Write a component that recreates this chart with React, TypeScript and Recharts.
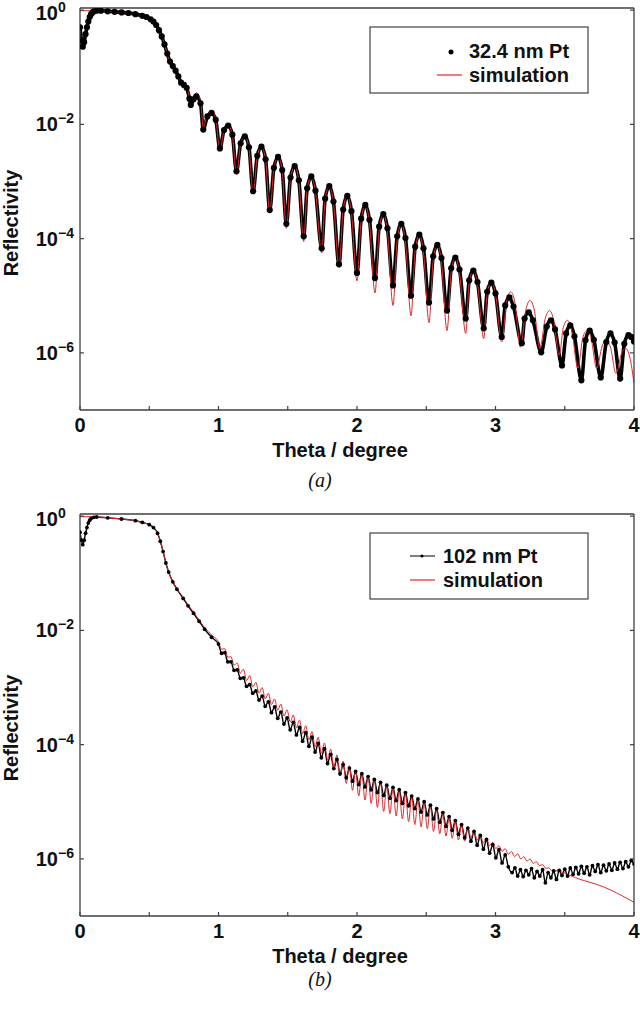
import React from 'react';
import { LineChart, Line, XAxis, YAxis, ReferenceLine } from 'recharts';

// values are [theta (deg), log10(reflectivity)]
const dataA: [number, number][] = [
  [0, -0.3], [0.01, -0.52], [0.02, -0.64], [0.03, -0.56], [0.04, -0.42], [0.05, -0.3], [0.06, -0.2], [0.07, -0.12],
  [0.08, -0.07], [0.09, -0.04], [0.1, -0.02], [0.12, -0.01], [0.15, -0.01], [0.2, -0.02], [0.25, -0.03], [0.3, -0.04],
  [0.35, -0.05], [0.4, -0.07], [0.45, -0.1], [0.48, -0.12], [0.51, -0.16], [0.53, -0.2], [0.55, -0.26], [0.57, -0.35],
  [0.59, -0.46], [0.61, -0.6], [0.63, -0.76], [0.65, -0.9], [0.67, -0.98], [0.69, -1.06], [0.71, -1.16], [0.73, -1.27],
  [0.75, -1.31], [0.77, -1.36], [0.79, -1.55], [0.8, -1.66], [0.82, -1.56], [0.84, -1.51],
  [0.87, -1.63], [0.89, -2.09], [0.92, -1.86], [0.95, -1.8],
  [0.98, -1.92], [1.01, -2.42], [1.04, -2.1], [1.07, -2.02],
  [1.1, -2.18], [1.13, -2.82], [1.16, -2.33], [1.19, -2.21],
  [1.22, -2.4], [1.25, -3.17], [1.28, -2.55], [1.31, -2.39],
  [1.34, -2.61], [1.37, -3.5], [1.4, -2.76], [1.43, -2.57],
  [1.46, -2.8], [1.49, -3.74], [1.52, -2.93], [1.55, -2.73],
  [1.58, -2.98], [1.615, -3.96], [1.64, -3.12], [1.67, -2.91],
  [1.7, -3.16], [1.745, -4.17], [1.77, -3.3], [1.8, -3.08],
  [1.83, -3.35], [1.87, -4.45], [1.9, -3.49], [1.93, -3.25],
  [1.96, -3.52], [2.0, -4.6], [2.03, -3.65], [2.06, -3.41],
  [2.09, -3.67], [2.13, -4.69], [2.16, -3.79], [2.19, -3.57],
  [2.22, -3.82], [2.26, -4.82], [2.29, -3.96], [2.32, -3.74],
  [2.35, -3.99], [2.39, -5.0], [2.42, -4.14], [2.45, -3.93],
  [2.48, -4.17], [2.52, -5.12], [2.55, -4.31], [2.58, -4.11],
  [2.61, -4.34], [2.65, -5.26], [2.68, -4.52], [2.71, -4.33],
  [2.74, -4.54], [2.785, -5.4], [2.81, -4.73], [2.84, -4.56],
  [2.87, -4.76], [2.915, -5.57], [2.94, -4.93], [2.97, -4.77],
  [3.0, -4.96], [3.045, -5.72], [3.07, -5.17], [3.1, -5.03],
  [3.13, -5.19], [3.19, -5.83], [3.21, -5.4], [3.24, -5.29],
  [3.27, -5.43], [3.33, -5.99], [3.37, -5.54], [3.4, -5.43],
  [3.43, -5.59], [3.48, -6.22], [3.51, -5.66], [3.54, -5.52],
  [3.57, -5.71], [3.62, -6.48], [3.65, -5.78], [3.68, -5.61],
  [3.71, -5.77], [3.76, -6.43], [3.8, -5.81], [3.83, -5.66],
  [3.86, -5.82], [3.9, -6.45], [3.93, -5.84], [3.96, -5.69],
  [3.98, -5.72], [4.0, -5.8],
];

const simA: [number, number][] = [
  [0, -0.01], [0.05, -0.01], [0.1, -0.01], [0.2, -0.02], [0.3, -0.04], [0.4, -0.07], [0.45, -0.1], [0.5, -0.15],
  [0.54, -0.23], [0.57, -0.35], [0.6, -0.52], [0.62, -0.68], [0.64, -0.85], [0.66, -0.96], [0.68, -1.04], [0.7, -1.12],
  [0.72, -1.22], [0.74, -1.28], [0.76, -1.3], [0.78, -1.42], [0.8, -1.6], [0.82, -1.5], [0.84, -1.45],
  [0.87, -1.57], [0.89, -2.05], [0.92, -1.82], [0.95, -1.76],
  [0.98, -1.9], [1.01, -2.45], [1.04, -2.11], [1.07, -2.02],
  [1.1, -2.19], [1.13, -2.88], [1.16, -2.34], [1.19, -2.21],
  [1.22, -2.41], [1.25, -3.22], [1.28, -2.56], [1.31, -2.39],
  [1.34, -2.62], [1.37, -3.55], [1.4, -2.77], [1.43, -2.57],
  [1.46, -2.82], [1.49, -3.82], [1.52, -2.95], [1.55, -2.73],
  [1.58, -2.99], [1.615, -4.05], [1.64, -3.14], [1.67, -2.91],
  [1.7, -3.18], [1.745, -4.25], [1.77, -3.31], [1.8, -3.08],
  [1.83, -3.36], [1.87, -4.5], [1.9, -3.5], [1.93, -3.25],
  [1.96, -3.55], [2.0, -4.74], [2.03, -3.68], [2.06, -3.41],
  [2.09, -3.72], [2.13, -4.95], [2.16, -3.85], [2.19, -3.57],
  [2.22, -3.89], [2.26, -5.17], [2.29, -4.03], [2.32, -3.74],
  [2.35, -4.06], [2.39, -5.35], [2.42, -4.21], [2.45, -3.93],
  [2.48, -4.24], [2.52, -5.47], [2.55, -4.38], [2.58, -4.11],
  [2.61, -4.41], [2.65, -5.61], [2.68, -4.59], [2.71, -4.33],
  [2.74, -4.6], [2.785, -5.66], [2.81, -4.78], [2.84, -4.56],
  [2.87, -4.8], [2.915, -5.75], [2.94, -4.96], [2.97, -4.76],
  [3.0, -4.97], [3.045, -5.81], [3.08, -5.11], [3.11, -4.93],
  [3.14, -5.12], [3.18, -5.9], [3.22, -5.24], [3.25, -5.08],
  [3.28, -5.25], [3.32, -5.92], [3.36, -5.39], [3.39, -5.26],
  [3.42, -5.42], [3.46, -6.04], [3.49, -5.55], [3.52, -5.43],
  [3.55, -5.6], [3.595, -6.27], [3.63, -5.74], [3.66, -5.61],
  [3.69, -5.74], [3.73, -6.27], [3.77, -5.88], [3.8, -5.78],
  [3.83, -5.9], [3.87, -6.36], [3.91, -6.01], [3.94, -5.92],
  [3.97, -6.08], [4.0, -6.53],
];

const dataB: [number, number][] = [
  [0, -0.28], [0.01, -0.42], [0.02, -0.5], [0.03, -0.42], [0.04, -0.3], [0.05, -0.2], [0.06, -0.12], [0.07, -0.07],
  [0.08, -0.04], [0.1, -0.02], [0.12, -0.015], [0.2, -0.03], [0.3, -0.05], [0.4, -0.08], [0.45, -0.11], [0.5, -0.15],
  [0.53, -0.2], [0.56, -0.3], [0.58, -0.44], [0.6, -0.62], [0.62, -0.82], [0.64, -0.98], [0.67, -1.15], [0.7, -1.28],
  [0.745, -1.44], [0.78, -1.57], [0.82, -1.7], [0.86, -1.84], [0.9, -1.98], [0.95, -2.12],
  [1.0, -2.24], [1.0225, -2.4], [1.045, -2.39], [1.0675, -2.55], [1.09, -2.55], [1.1125, -2.7], [1.135, -2.69],
  [1.1575, -2.84], [1.18, -2.83], [1.2025, -2.98], [1.225, -2.95], [1.2475, -3.1], [1.27, -3.06], [1.2925, -3.22],
  [1.315, -3.15], [1.3375, -3.33], [1.36, -3.25], [1.3825, -3.44], [1.405, -3.34], [1.4275, -3.54], [1.45, -3.43],
  [1.4725, -3.64], [1.495, -3.53], [1.5175, -3.74], [1.54, -3.61], [1.5625, -3.83], [1.585, -3.7], [1.6075, -3.94],
  [1.63, -3.79], [1.6525, -4.03], [1.675, -3.87], [1.6975, -4.13], [1.72, -3.98], [1.7425, -4.23], [1.765, -4.07],
  [1.7875, -4.33], [1.81, -4.17], [1.8325, -4.42], [1.855, -4.26], [1.8775, -4.51], [1.9, -4.35], [1.9225, -4.58],
  [1.945, -4.41], [1.9675, -4.64], [1.99, -4.47], [2.0125, -4.7], [2.035, -4.51], [2.0575, -4.74], [2.08, -4.56],
  [2.1025, -4.79], [2.125, -4.61], [2.1475, -4.84], [2.17, -4.66], [2.1925, -4.89], [2.215, -4.71], [2.2375, -4.94],
  [2.26, -4.75], [2.2825, -4.98], [2.305, -4.79], [2.3275, -5.03], [2.35, -4.84], [2.3725, -5.07], [2.395, -4.9],
  [2.4175, -5.12], [2.44, -4.95], [2.4625, -5.18], [2.485, -5.0], [2.5075, -5.23], [2.53, -5.06], [2.5525, -5.3],
  [2.575, -5.12], [2.5975, -5.36], [2.62, -5.19], [2.6425, -5.43], [2.665, -5.26], [2.6875, -5.5], [2.71, -5.33],
  [2.7325, -5.57], [2.755, -5.4], [2.7775, -5.63], [2.8, -5.46], [2.8225, -5.69], [2.845, -5.52], [2.8675, -5.76],
  [2.89, -5.59], [2.9125, -5.83], [2.935, -5.66], [2.9575, -5.9], [2.98, -5.75], [3.0025, -5.98], [3.025, -5.84],
  [3.0475, -6.07], [3.07, -5.93], [3.0925, -6.14],
  [3.12, -6.24], [3.14, -6.16], [3.16, -6.3], [3.18, -6.19], [3.2, -6.31], [3.22, -6.2], [3.24, -6.28], [3.26, -6.17],
  [3.28, -6.33], [3.3, -6.22], [3.32, -6.3], [3.34, -6.19], [3.36, -6.42], [3.38, -6.24], [3.4, -6.33], [3.42, -6.21],
  [3.44, -6.36], [3.46, -6.2], [3.48, -6.29], [3.5, -6.18], [3.52, -6.3], [3.54, -6.16], [3.56, -6.27], [3.58, -6.15],
  [3.6, -6.26], [3.62, -6.13], [3.64, -6.25], [3.66, -6.14], [3.68, -6.28], [3.7, -6.12], [3.72, -6.22], [3.74, -6.1],
  [3.76, -6.24], [3.78, -6.11], [3.8, -6.21], [3.82, -6.09], [3.84, -6.2], [3.86, -6.07], [3.88, -6.18], [3.9, -6.06],
  [3.92, -6.17], [3.94, -6.05], [3.96, -6.14], [3.98, -6.03], [4.0, -6.09],
];

const simB: [number, number][] = [
  [0, -0.01], [0.1, -0.01], [0.2, -0.03], [0.3, -0.05], [0.4, -0.08], [0.45, -0.11], [0.5, -0.15], [0.53, -0.2],
  [0.56, -0.3], [0.58, -0.44], [0.6, -0.62], [0.62, -0.82], [0.64, -0.98], [0.67, -1.14], [0.7, -1.27], [0.745, -1.42],
  [0.78, -1.55], [0.82, -1.68], [0.86, -1.82], [0.9, -1.95], [0.95, -2.08],
  [1.0, -2.2], [1.0225, -2.33], [1.045, -2.32], [1.0675, -2.47], [1.09, -2.46], [1.1125, -2.61], [1.135, -2.57],
  [1.1575, -2.75], [1.18, -2.68], [1.2025, -2.88], [1.225, -2.79], [1.2475, -2.99], [1.27, -2.91], [1.2925, -3.1],
  [1.315, -3.0], [1.3375, -3.2], [1.36, -3.1], [1.3825, -3.3], [1.405, -3.2], [1.4275, -3.4], [1.45, -3.29],
  [1.4725, -3.5], [1.495, -3.39], [1.5175, -3.6], [1.54, -3.48], [1.5625, -3.7], [1.585, -3.57], [1.6075, -3.81],
  [1.63, -3.67], [1.6525, -3.92], [1.675, -3.77], [1.6975, -4.04], [1.72, -3.87], [1.7425, -4.15], [1.765, -3.97],
  [1.7875, -4.26], [1.81, -4.08], [1.8325, -4.4], [1.855, -4.18], [1.8775, -4.55], [1.9, -4.29], [1.9225, -4.68],
  [1.945, -4.37], [1.9675, -4.8], [1.99, -4.45], [2.0125, -4.9], [2.035, -4.5], [2.0575, -4.97], [2.08, -4.55],
  [2.1025, -5.03], [2.125, -4.6], [2.1475, -5.1], [2.17, -4.66], [2.1925, -5.17], [2.215, -4.71], [2.2375, -5.21],
  [2.26, -4.75], [2.2825, -5.25], [2.305, -4.81], [2.3275, -5.3], [2.35, -4.86], [2.3725, -5.35], [2.395, -4.92],
  [2.4175, -5.4], [2.44, -4.97], [2.4625, -5.44], [2.485, -5.02], [2.5075, -5.47], [2.53, -5.08], [2.5525, -5.52],
  [2.575, -5.14], [2.5975, -5.56], [2.62, -5.21], [2.6425, -5.6], [2.665, -5.28], [2.6875, -5.64], [2.71, -5.34],
  [2.7325, -5.67], [2.755, -5.41], [2.7775, -5.69], [2.8, -5.46], [2.8225, -5.63], [2.845, -5.52], [2.8675, -5.67],
  [2.89, -5.59], [2.9125, -5.72], [2.935, -5.64], [2.9575, -5.77], [2.98, -5.71], [3.0025, -5.82], [3.025, -5.77],
  [3.0475, -5.87], [3.07, -5.82], [3.0925, -5.92], [3.115, -5.87], [3.1375, -5.96], [3.16, -5.91], [3.1825, -6.0],
  [3.205, -5.96], [3.2275, -6.04], [3.25, -6.0], [3.2725, -6.08], [3.295, -6.05], [3.3175, -6.12], [3.34, -6.1],
  [3.3625, -6.165], [3.385, -6.155], [3.4075, -6.21], [3.43, -6.21], [3.6, -6.35], [3.78, -6.49], [4.0, -6.76],
];

const X_TICKS = [0, 0.5, 1, 1.5, 2, 2.5, 3, 3.5, 4];
const Y_TICKS = [1e-6, 1e-4, 1e-2, 1];
const Y_EXP = ['\u22126', '\u22124', '\u22122', '0'];
const Y_DOMAIN: [number, number] = [1e-7, 1.09];

const FRAME = '#404040';
const RED = '#e3262d';
const SANS = '"Liberation Sans", Arial, sans-serif';
const SERIF = '"Liberation Serif", "Times New Roman", serif';

const toPts = (arr: [number, number][]) => arr.map(([t, e]) => ({ t, r: Math.pow(10, e) }));

function XTick({ x, y, payload }: any) {
  const v = payload.value;
  return (
    <g>
      <line x1={x} y1={y} x2={x} y2={y - 4} stroke={FRAME} strokeWidth={1.2} />
      {Number.isInteger(v) && (
        <text x={x} y={y + 22} textAnchor="middle" fontFamily={SANS} fontWeight="bold" fontSize={20} fill="#111">
          {v}
        </text>
      )}
    </g>
  );
}

function LeftTick({ x, y, payload, index }: any) {
  const i = Y_TICKS.indexOf(payload.value);
  // the top label sits a little lower so that it stays inside the picture
  const dy = payload.value === 1 ? 3 : 0;
  return (
    <g>
      <line x1={x} y1={y} x2={x + 4} y2={y} stroke={FRAME} strokeWidth={1.2} />
      <text x={x - 22} y={y + 7 + dy} textAnchor="end" fontFamily={SANS} fontWeight="bold" fontSize={20} fill="#111">10</text>
      <text x={x - 22} y={y - 1 + dy} textAnchor="start" fontFamily={SANS} fontWeight="bold" fontSize={14} fill="#111">
        {Y_EXP[i >= 0 ? i : index]}
      </text>
    </g>
  );
}

function RightTick({ x, y }: any) {
  return <line x1={x} y1={y} x2={x - 4} y2={y} stroke={FRAME} strokeWidth={1.2} />;
}

function Panel({ data, sim, thin }: { data: [number, number][]; sim: [number, number][]; thin: boolean }) {
  return (
    <LineChart width={640} height={470} margin={{ top: 8, right: 5, bottom: 0, left: 0 }}>
      <XAxis
        type="number"
        dataKey="t"
        domain={[0, 4]}
        ticks={X_TICKS}
        allowDataOverflow
        height={60}
        tickSize={0}
        tickMargin={0}
        tickLine={false}
        axisLine={{ stroke: FRAME, strokeWidth: 1.3 }}
        tick={XTick}
      />
      <YAxis
        yAxisId="l"
        type="number"
        scale="log"
        domain={Y_DOMAIN}
        allowDataOverflow
        ticks={Y_TICKS}
        width={80}
        tickSize={0}
        tickMargin={0}
        tickLine={false}
        axisLine={{ stroke: FRAME, strokeWidth: 1.3 }}
        tick={LeftTick}
      />
      <YAxis
        yAxisId="r"
        orientation="right"
        type="number"
        scale="log"
        domain={Y_DOMAIN}
        allowDataOverflow
        ticks={Y_TICKS}
        width={1}
        tickSize={0}
        tickMargin={0}
        tickLine={false}
        axisLine={{ stroke: FRAME, strokeWidth: 1.3 }}
        tick={RightTick}
      />
      <ReferenceLine yAxisId="l" y={Y_DOMAIN[1]} stroke={FRAME} strokeWidth={1.3} />
      <Line
        yAxisId="l"
        data={toPts(data)}
        dataKey="r"
        type="monotone"
        stroke="#000"
        strokeWidth={thin ? 1.4 : 3.6}
        dot={{ r: thin ? 1.9 : 3.1, fill: '#000', stroke: '#000', strokeWidth: 0 }}
        activeDot={false}
        isAnimationActive={false}
      />
      <Line
        yAxisId="l"
        data={toPts(sim)}
        dataKey="r"
        type="monotone"
        stroke={RED}
        strokeWidth={1}
        dot={false}
        activeDot={false}
        isAnimationActive={false}
      />
    </LineChart>
  );
}

export default function App() {
  const txt = { fontFamily: SANS, fontWeight: 'bold' as const, fontSize: 20, fill: '#111' };
  return (
    <div style={{ position: 'absolute', left: 0, top: 0, width: 640, height: 1010, background: '#fff' }}>
      <div style={{ position: 'absolute', left: 0, top: 0 }}>
        <Panel data={dataA} sim={simA} thin={false} />
      </div>
      <div style={{ position: 'absolute', left: 0, top: 506 }}>
        <Panel data={dataB} sim={simB} thin={true} />
      </div>
      <svg width={640} height={1010} style={{ position: 'absolute', left: 0, top: 0, pointerEvents: 'none' }}>
        <text x={18} y={223} transform="rotate(-90 18 223)" textAnchor="middle" {...txt}>Reflectivity</text>
        <text x={340} y={457} textAnchor="middle" {...txt}>Theta / degree</text>
        <text x={320} y={487} textAnchor="middle" fontFamily={SERIF} fontStyle="italic" fontSize={20} fill="#111">(a)</text>
        <rect x={370} y={27} width={218} height={66} fill="#fff" stroke={FRAME} strokeWidth={1.2} />
        <circle cx={451} cy={52} r={2.5} fill="#000" />
        <text x={469} y={58} {...txt}>32.4 nm Pt</text>
        <line x1={437} y1={75} x2={462} y2={75} stroke={RED} strokeWidth={1.2} />
        <text x={469} y={82} {...txt}>simulation</text>

        <text x={18} y={728} transform="rotate(-90 18 728)" textAnchor="middle" {...txt}>Reflectivity</text>
        <text x={340} y={963} textAnchor="middle" {...txt}>Theta / degree</text>
        <text x={320} y={986} textAnchor="middle" fontFamily={SERIF} fontStyle="italic" fontSize={20} fill="#111">(b)</text>
        <rect x={370} y={533} width={218} height={66} fill="#fff" stroke={FRAME} strokeWidth={1.2} />
        <line x1={410} y1={556} x2={435} y2={556} stroke="#000" strokeWidth={1} />
        <circle cx={422} cy={556} r={1.6} fill="#000" />
        <text x={443} y={563} {...txt}>102 nm Pt</text>
        <line x1={410} y1={580} x2={435} y2={580} stroke={RED} strokeWidth={1.2} />
        <text x={443} y={587} {...txt}>simulation</text>
      </svg>
    </div>
  );
}
